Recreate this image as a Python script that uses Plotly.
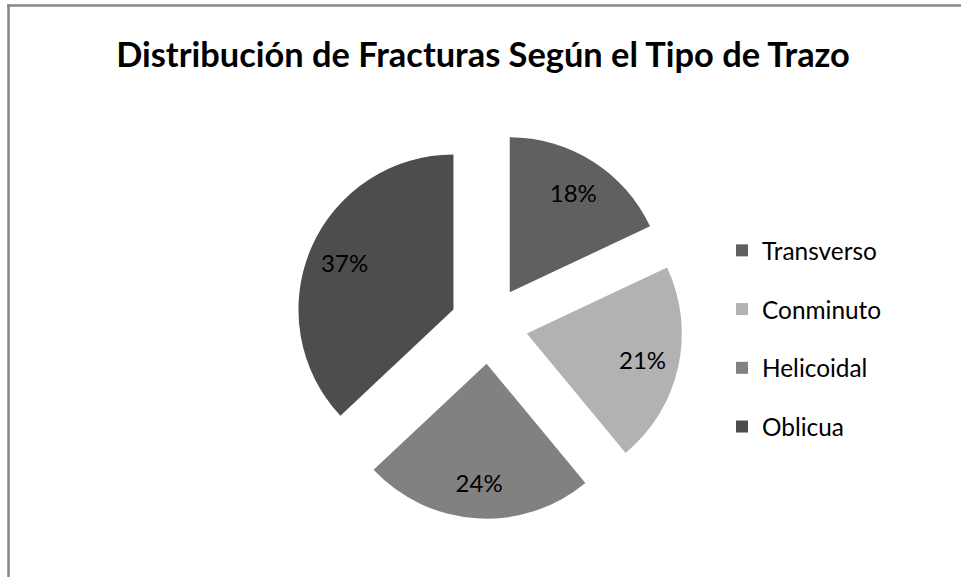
import plotly.graph_objects as go

categories = ["Transverso", "Conminuto", "Helicoidal", "Oblicua"]
values = [18, 21, 24, 37]
slice_colors = ["#606060", "#b2b2b2", "#818181", "#4d4d4d"]
title_text = "Distribución de Fracturas Según el Tipo de Trazo"

W, H = 961, 577
FONT = "Lato, Calibri, 'Liberation Sans', sans-serif"
PULL = 0.25
pie_domain = dict(x=[295.25 / W, 682.75 / W], y=[1 - 518.75 / H, 1 - 131.25 / H])

fig = go.Figure()

# the exploded pie itself
fig.add_trace(go.Pie(
    labels=categories,
    values=values,
    sort=False,
    direction="clockwise",
    rotation=0,
    pull=[PULL] * len(values),
    marker=dict(colors=slice_colors, line=dict(width=0)),
    textinfo="none",
    showlegend=False,
    domain=pie_domain,
    hoverinfo="label+percent",
))

# transparent ring on top of it that carries the percentage labels further out
fig.add_trace(go.Pie(
    labels=categories,
    values=values,
    sort=False,
    direction="clockwise",
    rotation=0,
    pull=[PULL] * len(values),
    hole=0.53,
    marker=dict(colors=["rgba(0,0,0,0)"] * len(values), line=dict(width=0)),
    textinfo="percent",
    textposition="inside",
    insidetextorientation="horizontal",
    textfont=dict(family=FONT, size=24, color="#000000"),
    showlegend=False,
    domain=pie_domain,
    hoverinfo="skip",
))

# legend entries (one per category, spaced like the original)
for name, col in zip(categories, slice_colors):
    fig.add_trace(go.Scatter(
        x=[None], y=[None], mode="markers", name=name,
        legendgroup=name,
        marker=dict(symbol="square", size=12, color=col),
        showlegend=True, hoverinfo="skip",
    ))

fig.update_layout(
    width=W, height=H,
    margin=dict(l=0, r=0, t=0, b=0),
    paper_bgcolor="#ffffff",
    plot_bgcolor="#ffffff",
    xaxis=dict(visible=False),
    yaxis=dict(visible=False),
    title=dict(
        text="<b>" + title_text + "</b>",
        x=483 / W, xanchor="center",
        y=1 - 55 / H, yanchor="middle",
        font=dict(family=FONT, size=34.4, color="#000000"),
    ),
    legend=dict(
        x=722 / W, xanchor="left",
        y=1 - 228 / H, yanchor="top",
        traceorder="grouped",
        tracegroupgap=24,
        font=dict(family=FONT, size=24.4, color="#000000"),
        bgcolor="rgba(0,0,0,0)",
    ),
    shapes=[
        dict(type="line", xref="paper", yref="paper",
             x0=8.5 / W, x1=8.5 / W, y0=0, y1=1 - 4 / H,
             line=dict(color="#878787", width=2.5), layer="above"),
        dict(type="line", xref="paper", yref="paper",
             x0=7.25 / W, x1=1, y0=1 - 5.5 / H, y1=1 - 5.5 / H,
             line=dict(color="#878787", width=2.5), layer="above"),
    ],
)

fig.write_html(
    "out.html",
    config={"displayModeBar": False},
    post_script="document.body.style.margin='0';document.body.style.overflow='hidden';",
)
